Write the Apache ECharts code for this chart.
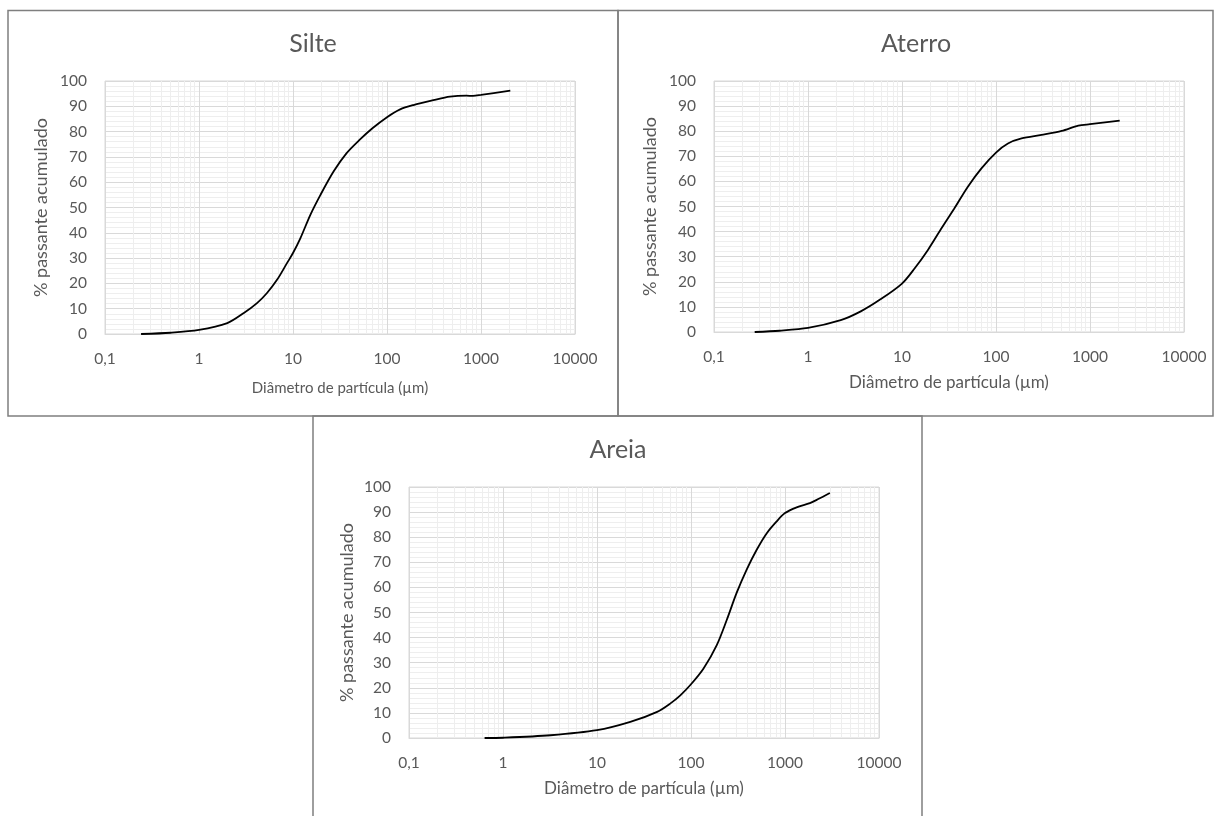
<!DOCTYPE html>
<html>
<head>
<meta charset="utf-8">
<script src="https://cdn.jsdelivr.net/npm/echarts@6/dist/echarts.min.js"></script>
<style>
  html, body { margin: 0; padding: 0; background: #ffffff; }
  #chart { width: 1215px; height: 816px; }
</style>
</head>
<body>
<div id="chart"></div>
<script>
// Panel titles and shared axis texts
const panelTitles = ['Silte', 'Aterro', 'Areia'];
const xAxisName = 'Diâmetro de partícula (µm)';
const yAxisName = '% passante acumulado';
const xTickLabels = ['0,1', '1', '10', '100', '1000', '10000'];

// Grain-size curves: diameter (µm) and cumulative % passing
const silteDiameter = [0.242, 0.5, 1, 2, 3, 4.14, 5.29, 6.76, 8.63, 10, 12, 15.3, 19.6, 27, 37, 51, 70, 100, 138, 191, 311, 467, 700, 820, 1000, 2050];
const siltePassing  = [0, 0.5, 1.6, 4.3, 8.3, 12.2, 16.2, 21.4, 28, 32, 37.9, 47.1, 55, 64.2, 71.4, 76.7, 81.3, 85.7, 88.8, 90.5, 92.4, 93.8, 94.2, 94.1, 94.5, 96.2];

const aterroDiameter = [0.271, 0.5, 1, 2.23, 3.64, 5.9, 10, 13.6, 18.8, 26, 36, 50, 70, 100, 134, 187, 305, 500, 750, 1000, 2070];
const aterroPassing  = [0, 0.5, 1.6, 4.7, 8.2, 13, 19.3, 25.3, 32.6, 41, 49.2, 57.8, 65.2, 71.5, 75.1, 77.1, 78.5, 80.1, 82.2, 82.8, 84.2];

const areiaDiameter = [0.637, 1, 3.2, 10, 22.6, 43.6, 60, 77, 100, 136, 188, 240, 305, 390, 500, 640, 815, 1000, 1330, 1840, 2260, 3000];
const areiaPassing  = [0, 0.1, 1.1, 3.1, 6.4, 10.4, 13.7, 17, 21.4, 27.7, 37, 47, 57.7, 67, 75, 81.6, 86.3, 89.6, 91.9, 93.6, 95.2, 97.6];

const curves = [
  [silteDiameter, siltePassing],
  [aterroDiameter, aterroPassing],
  [areiaDiameter, areiaPassing]
];

// Panel placement on the page
const layouts = [
  { grid: { left: 105, top: 81, width: 470, height: 253 }, titleX: 308, titleY: 26, frame: [8, 10.5, 610, 405.5], xNameSize: 15, xNameGap: 47, yNameGap: 55 },
  { grid: { left: 714, top: 81, width: 470, height: 251 }, titleX: 911, titleY: 26, frame: [618, 10.5, 595, 405.5], xNameSize: 17, xNameGap: 42, yNameGap: 55 },
  { grid: { left: 409, top: 487, width: 470, height: 251 }, titleX: 613, titleY: 432, frame: [313, 416, 609, 410], xNameSize: 17, xNameGap: 42, yNameGap: 53 }
];

const FONT = 'Lato';
const TEXT = '#595959';
const MAJOR = '#d9d9d9';
const MINOR = '#eeeeee';

// Minor log gridlines at 2..9 of every decade
const minorX = [];
[0.1, 1, 10, 100, 1000].forEach(d => {
  for (let k = 2; k <= 9; k++) minorX.push(+(d * k).toPrecision(3));
});

const option = {
  backgroundColor: '#ffffff',
  animation: false,
  title: layouts.map((l, i) => ({
    text: panelTitles[i],
    left: l.titleX,
    top: l.titleY,
    textAlign: 'center',
    textStyle: { fontFamily: FONT, fontSize: 25, fontWeight: 'normal', color: TEXT }
  })),
  graphic: layouts.map(l => ({
    type: 'rect',
    silent: true,
    shape: { x: l.frame[0], y: l.frame[1], width: l.frame[2], height: l.frame[3] },
    style: { fill: 'none', stroke: '#7f7f7f', lineWidth: 1.5 },
    z: -1
  })),
  grid: layouts.map(l => Object.assign({
    show: true, borderColor: MAJOR, borderWidth: 1, backgroundColor: 'transparent'
  }, l.grid)),
  xAxis: layouts.map((l, i) => ({
    type: 'log',
    logBase: 10,
    gridIndex: i,
    min: 0.1,
    max: 10000,
    name: xAxisName,
    nameLocation: 'middle',
    nameGap: l.xNameGap,
    nameTextStyle: { fontFamily: FONT, fontSize: l.xNameSize, color: TEXT },
    axisLine: { show: true, lineStyle: { color: MAJOR, width: 1 } },
    axisTick: { show: false },
    axisLabel: {
      margin: 17,
      fontFamily: FONT, fontSize: 15.5, color: TEXT,
      formatter: v => xTickLabels[Math.round(Math.log10(v)) + 1]
    },
    splitLine: { show: true, lineStyle: { color: MAJOR, width: 1 } }
  })),
  yAxis: layouts.map((l, i) => ({
    type: 'value',
    gridIndex: i,
    min: 0,
    max: 100,
    interval: 10,
    name: yAxisName,
    nameLocation: 'middle',
    nameGap: l.yNameGap,
    nameTextStyle: { fontFamily: FONT, fontSize: 18, color: TEXT },
    axisLine: { show: false },
    axisTick: { show: false },
    axisLabel: { margin: 18, fontFamily: FONT, fontSize: 15.5, color: TEXT },
    splitLine: { show: true, lineStyle: { color: MAJOR, width: 1 } },
    minorTick: { show: false, splitNumber: 5 },
    minorSplitLine: { show: true, lineStyle: { color: MINOR, width: 1 } }
  })),
  series: []
};

curves.forEach((c, i) => {
  // light vertical gridlines inside each decade
  option.series.push({
    type: 'line',
    xAxisIndex: i,
    yAxisIndex: i,
    data: [],
    silent: true,
    markLine: {
      silent: true,
      z: 1,
      symbol: ['none', 'none'],
      label: { show: false },
      emphasis: { disabled: true },
      lineStyle: { color: MINOR, width: 1, type: 'solid' },
      data: minorX.map(v => ({ xAxis: v }))
    }
  });
  // cumulative passing curve
  option.series.push({
    type: 'line',
    xAxisIndex: i,
    yAxisIndex: i,
    data: c[0].map((d, k) => [d, c[1][k]]),
    showSymbol: false,
    symbol: 'none',
    smooth: 0.3,
    z: 10,
    lineStyle: { color: '#000000', width: 1.8 },
    emphasis: { disabled: true }
  });
});

const chart = echarts.init(document.getElementById('chart'), null, { renderer: 'canvas' });
chart.setOption(option);
</script>
</body>
</html>
